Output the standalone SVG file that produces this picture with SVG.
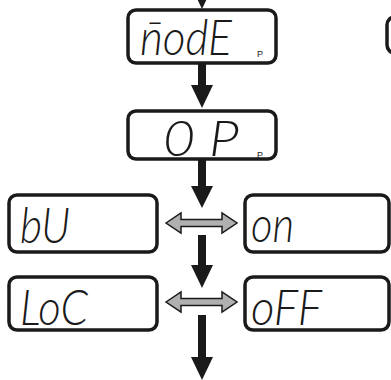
<svg xmlns="http://www.w3.org/2000/svg" width="391" height="380" viewBox="0 0 391 380">
<style>
.box{fill:#fff;stroke:#1a1a1a;stroke-width:3.5}
.seg{font-family:Lato,"Open Sans","DejaVu Sans",sans-serif;font-style:italic;font-weight:300;font-size:50px;fill:#1a1a1a}
.p{font-family:"Liberation Sans",sans-serif;font-size:9px;fill:#1a1a1a}
.arr{fill:#1a1a1a}
.dbl{fill:#b0b0b0;stroke:#1a1a1a;stroke-width:1.5;stroke-linejoin:miter}
</style>
<rect width="391" height="380" fill="#fff"/>
<g id="connectors">
<path class="arr" d="M198,-40H206V-14H213L202,9L191,-14H198Z"/>
<path class="arr" d="M198,63H206V85H213L202,108L191,85H198Z"/>
<path class="arr" d="M198,159H206V186H213L202,208L191,186H198Z"/>
<path class="arr" d="M198,235H206V265H213L202,288L191,265H198Z"/>
<path class="arr" d="M198,315H206V357H213L202,380L191,357H198Z"/>
<path class="dbl" d="M166,223L181,213V219.5H222V213L237,223L222,233V226.5H181V233Z"/>
<path class="dbl" d="M166,302L181,292V298.5H222V292L237,302L222,312V305.5H181V312Z"/>
</g>
<g id="node-mode">
<rect class="box" x="128" y="10" width="148" height="53" rx="8"/>
<text class="seg" x="140" y="55" textLength="92" lengthAdjust="spacingAndGlyphs">n̄odE</text>
<text class="p" x="257" y="57">P</text>
</g>
<g id="node-op">
<rect class="box" x="128" y="111" width="148" height="48" rx="8"/>
<text class="seg" x="163" y="156" textLength="76" lengthAdjust="spacingAndGlyphs">0 P</text>
<text class="p" x="257" y="158">P</text>
</g>
<g id="node-bu">
<rect class="box" x="9" y="195" width="148" height="57" rx="8"/>
<text class="seg" x="20" y="243" textLength="50" lengthAdjust="spacingAndGlyphs">bU</text>
</g>
<g id="node-on">
<rect class="box" x="245" y="195" width="144" height="57" rx="8"/>
<text class="seg" x="251" y="242" textLength="43" lengthAdjust="spacingAndGlyphs">on</text>
</g>
<g id="node-loc">
<rect class="box" x="9" y="277" width="148" height="53" rx="8"/>
<text class="seg" x="20" y="325" textLength="68" lengthAdjust="spacingAndGlyphs">LoC</text>
</g>
<g id="node-off">
<rect class="box" x="245" y="277" width="144" height="53" rx="8"/>
<text class="seg" x="251" y="325" textLength="71" lengthAdjust="spacingAndGlyphs">oFF</text>
</g>
<g id="node-partial">
<rect class="box" x="387" y="17" width="40" height="36" rx="8"/>
</g>
</svg>
